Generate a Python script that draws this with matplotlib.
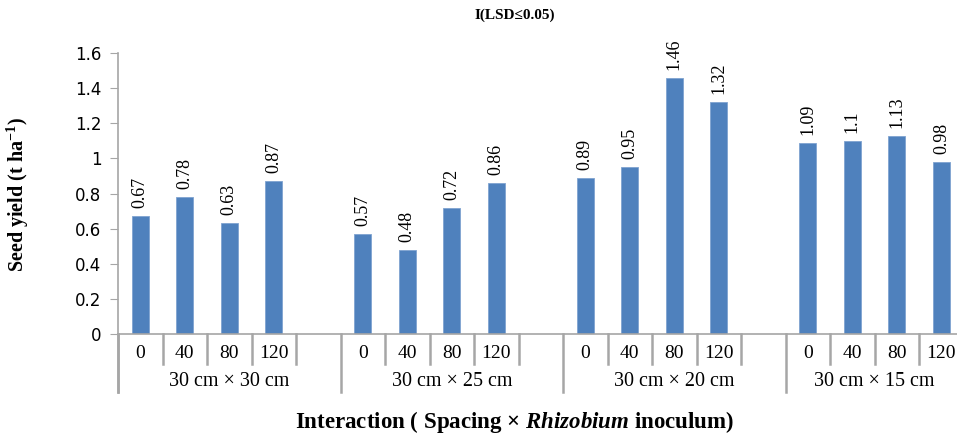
import matplotlib
matplotlib.use("Agg")
import matplotlib.pyplot as plt
import matplotlib.transforms as mtransforms

# data
spacings = ["30 cm × 30 cm", "30 cm × 25 cm", "30 cm × 20 cm", "30 cm × 15 cm"]
doses = ["0", "40", "80", "120"]
yield_30x30 = [0.67, 0.78, 0.63, 0.87]
yield_30x25 = [0.57, 0.48, 0.72, 0.86]
yield_30x20 = [0.89, 0.95, 1.46, 1.32]
yield_30x15 = [1.09, 1.10, 1.13, 0.98]
yields = [yield_30x30, yield_30x25, yield_30x20, yield_30x15]
yticks = [0, 0.2, 0.4, 0.6, 0.8, 1.0, 1.2, 1.4, 1.6]

plt.rcParams["mathtext.fontset"] = "custom"
plt.rcParams["mathtext.rm"] = "Liberation Serif:bold"
plt.rcParams["mathtext.it"] = "Liberation Serif:bold:italic"

serif = ["Liberation Serif", "DejaVu Serif"]
bar_color = "#4F81BD"
line_color = "#A6A6A6"

fig = plt.figure(figsize=(9.57, 4.37), dpi=100)
ax = fig.add_axes([0.1233, 0.2357, 0.8767, 0.643])

slot = 5  # four doses plus one empty slot per spacing
for g, vals in enumerate(yields):
    xs = [g * slot + i for i in range(len(vals))]
    ax.bar(xs, vals, width=0.38, color=bar_color, edgecolor="#7FA3D0", linewidth=0.6)
    for x, v in zip(xs, vals):
        ax.text(x, v + 0.045, f"{v:g}", rotation=90, ha="center", va="bottom",
                fontsize=13, family=serif)

ax.set_ylim(0, 1.6)
ax.set_xlim(-0.5, 18.35)
ax.set_yticks(yticks)
ax.set_yticklabels([f"{t:g}" for t in yticks], fontsize=12, family="DejaVu Sans")
ax.tick_params(axis="y", length=6, color=line_color, pad=6)
ax.set_xticks([])

for side in ["top", "right"]:
    ax.spines[side].set_visible(False)
ax.spines["left"].set_color(line_color)
ax.spines["bottom"].set_color(line_color)
ax.spines["left"].set_linewidth(1.2)
ax.spines["bottom"].set_linewidth(1.2)

# two-level category axis
trans = mtransforms.blended_transform_factory(ax.transData, ax.transAxes)
short, tall = -0.105, -0.205
for g in range(len(spacings)):
    base = g * slot
    ax.plot([base - 0.5, base - 0.5], [0, tall], transform=trans, color=line_color,
            lw=1.8, clip_on=False)
    for i, d in enumerate(doses):
        ax.text(base + i, -0.068, d, transform=trans, ha="center", va="center",
                fontsize=14, family=serif)
        ax.plot([base + i + 0.5] * 2, [0, short], transform=trans, color=line_color,
                lw=1.8, clip_on=False)
    # the last spacing has no trailing empty slot
    centre = base + 2 if g < len(spacings) - 1 else base + 1.5
    ax.text(centre, -0.168, spacings[g], transform=trans, ha="center",
            va="center", fontsize=14.5, family=serif)
ax.plot([-0.5, -0.5], [0, tall], transform=trans, color=line_color, lw=1.8, clip_on=False)

fig.text(0.538, 0.034, r"Interaction ( Spacing × $\mathit{Rhizobium}$ inoculum)",
         ha="center", va="center", fontsize=16.5, fontweight="bold", family=serif)
fig.text(0.019, 0.555, r"Seed yield (t ha$^{\mathrm{-1}}$)", rotation=90, ha="center",
         va="center", fontsize=14.5, fontweight="bold", family=serif)
fig.text(0.538, 0.966, "I(LSD≤0.05)", ha="center", va="center", fontsize=11,
         fontweight="bold", family=serif)

fig.savefig("out.png", dpi=100)
